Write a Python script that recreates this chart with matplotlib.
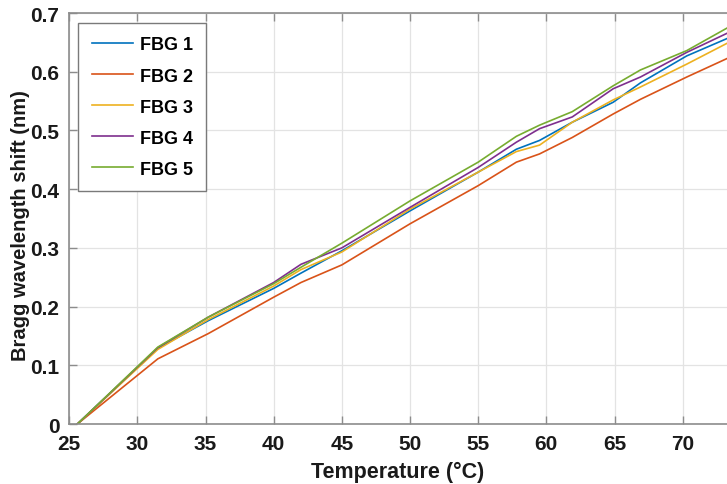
"""
FBG Bragg wavelength shift vs temperature
"""
import matplotlib
matplotlib.use("Agg")
import matplotlib.pyplot as plt

temperature = [25.6, 31.5, 35.2, 40.0, 42.0, 45.0, 50.0, 55.0, 57.8, 59.5, 61.9, 64.9, 66.9, 70.3, 73.3]

fbg1 = [0.0, 0.129, 0.176, 0.231, 0.257, 0.295, 0.363, 0.429, 0.468, 0.483, 0.514, 0.548, 0.581, 0.627, 0.657]
fbg2 = [0.0, 0.111, 0.154, 0.216, 0.241, 0.271, 0.341, 0.406, 0.446, 0.460, 0.488, 0.528, 0.553, 0.591, 0.623]
fbg3 = [0.0, 0.127, 0.178, 0.235, 0.263, 0.293, 0.366, 0.429, 0.464, 0.475, 0.514, 0.552, 0.574, 0.613, 0.649]
fbg4 = [0.0, 0.130, 0.182, 0.241, 0.272, 0.300, 0.369, 0.437, 0.480, 0.503, 0.523, 0.571, 0.591, 0.633, 0.666]
fbg5 = [0.0, 0.131, 0.182, 0.239, 0.267, 0.308, 0.380, 0.446, 0.490, 0.509, 0.532, 0.576, 0.603, 0.636, 0.675]

series = [fbg1, fbg2, fbg3, fbg4, fbg5]
labels = ["FBG 1", "FBG 2", "FBG 3", "FBG 4", "FBG 5"]
colors = ["#0072BD", "#D95319", "#EDB120", "#7E2F8E", "#77AC30"]

plt.rcParams['font.family'] = ['Liberation Sans', 'DejaVu Sans']
plt.rcParams['font.weight'] = 'bold'

fig = plt.figure(figsize=(7.27, 4.85), dpi=100)
ax = fig.add_axes([0.0952, 0.1237, 0.9048, 0.8474])

for y, lab, c in zip(series, labels, colors):
    ax.plot(temperature, y, color=c, lw=1.2, label=lab)

ax.set_xlim(25, 73.25)
ax.set_ylim(0, 0.7)
ax.set_xticks(range(25, 75, 5))
ax.set_yticks([0, 0.1, 0.2, 0.3, 0.4, 0.5, 0.6, 0.7])
ax.set_yticklabels(["0", "0.1", "0.2", "0.3", "0.4", "0.5", "0.6", "0.7"])

ax.grid(True, color="#e3e3e3", lw=0.9)
ax.set_axisbelow(True)
for s in ax.spines.values():
    s.set_color("#8c8c8c")
    s.set_linewidth(1.2)
ax.spines['right'].set_visible(False)
ax.tick_params(direction='in', length=6, width=1.0, color="#8c8c8c",
               top=True, labelsize=15, pad=7, labelcolor="#1a1a1a")

ax.set_xlabel("Temperature (°C)", fontsize=15.5, fontweight='bold', color="#1a1a1a",
              labelpad=6)
ax.set_ylabel("Bragg wavelength shift (nm)", fontsize=14.5, fontweight='bold', color="#1a1a1a")
ax.yaxis.set_label_coords(-0.059, 0.485)

leg = ax.legend(loc='upper left', bbox_to_anchor=(0.0137, 0.976), borderaxespad=0,
                fontsize=13, handlelength=2.3, handletextpad=0.35, labelspacing=0.78,
                borderpad=0.75, fancybox=False, framealpha=1)
leg.get_frame().set_edgecolor("#7a7a7a")
leg.get_frame().set_linewidth(1.0)

fig.savefig("out.png", dpi=100)
